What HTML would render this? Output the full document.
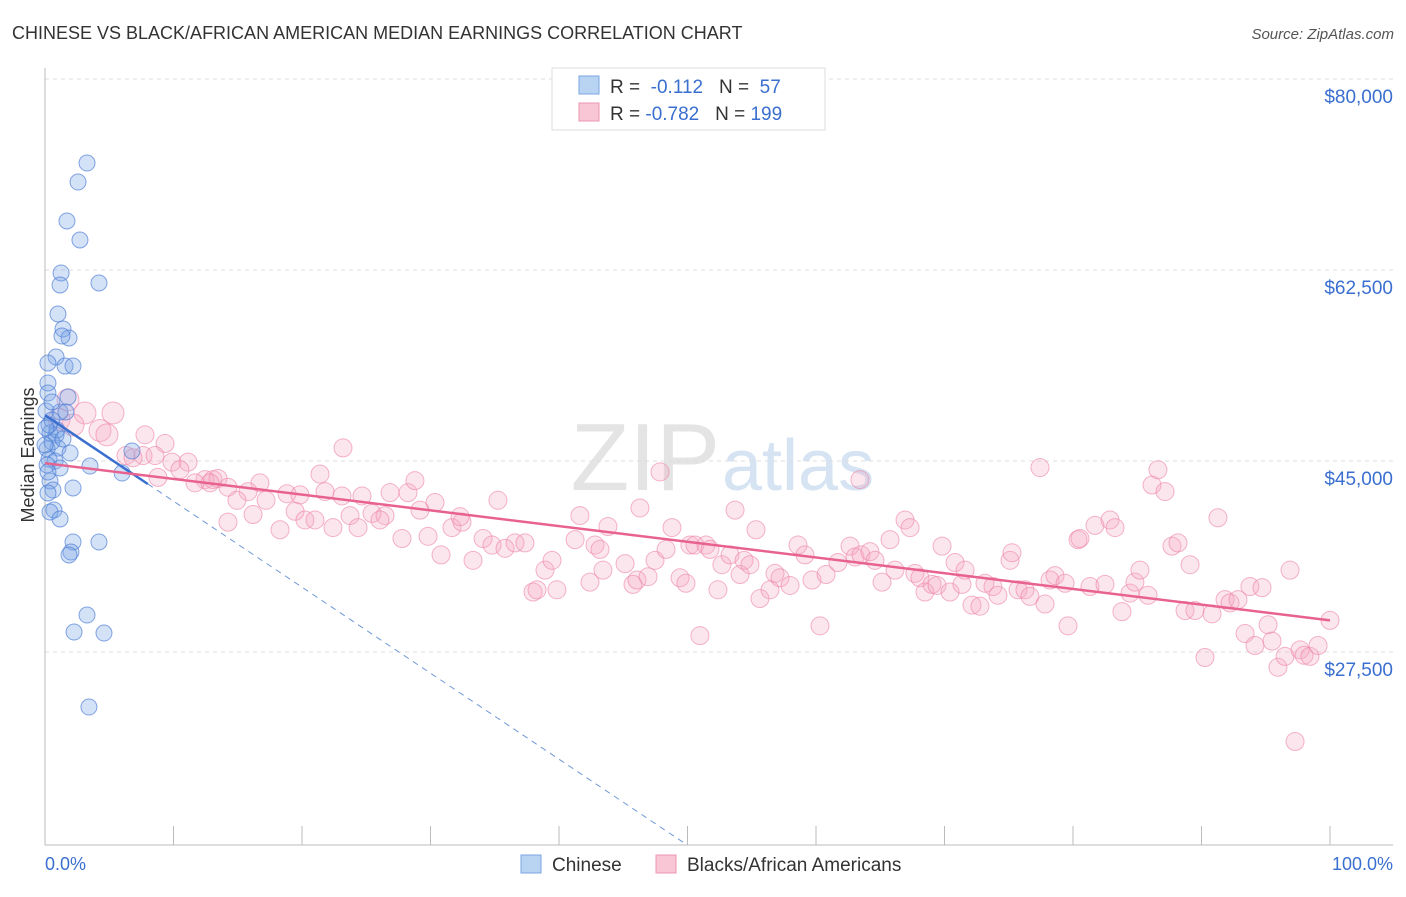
<!DOCTYPE html>
<html><head><meta charset="utf-8"><style>
body{margin:0;background:#fff;font-family:"Liberation Sans",sans-serif;}
svg text{font-family:"Liberation Sans",sans-serif;}
</style></head><body>
<svg id="chart" width="1406" height="892">
<text x="12" y="39" font-size="18" fill="#333">CHINESE VS BLACK/AFRICAN AMERICAN MEDIAN EARNINGS CORRELATION CHART</text>
<text x="1394" y="39" font-size="15" fill="#555" font-style="italic" text-anchor="end">Source: ZipAtlas.com</text>
<text x="720" y="490" font-size="96" fill="#e4e4e4" text-anchor="end" font-family="Liberation Serif">ZIP</text>
<text x="722" y="490" font-size="72" fill="#d5e3f3">atlas</text>
<g id="grid"></g>
<g id="pts"></g>
<g id="lines"></g>
<text transform="translate(34,455) rotate(-90)" font-size="18" fill="#333" text-anchor="middle">Median Earnings</text>
<text x="45" y="870" font-size="18" fill="#3a6fd0">0.0%</text>
<text x="1393" y="870" font-size="18" fill="#3a6fd0" text-anchor="end">100.0%</text>
<g>
<rect x="552" y="68" width="273" height="62" fill="#fff" stroke="#ddd"/>
<rect x="579" y="76" width="20" height="18" fill="#b9d3f3" stroke="#7aa6e0"/>
<rect x="579" y="103" width="20" height="18" fill="#f9c6d5" stroke="#ee97b2"/>
<text x="610" y="93" font-size="19" fill="#333">R = <tspan fill="#3a6fd0">&#160;-0.112</tspan>&#160;&#160;&#160;N = <tspan fill="#3a6fd0">&#160;57</tspan></text>
<text x="610" y="120" font-size="19" fill="#333">R = <tspan fill="#3a6fd0">-0.782</tspan>&#160;&#160;&#160;N = <tspan fill="#3a6fd0">199</tspan></text>
</g>
<g>
<rect x="521" y="855" width="20" height="18" fill="#b9d3f3" stroke="#7aa6e0"/>
<text x="552" y="871" font-size="19" fill="#333">Chinese</text>
<rect x="656" y="855" width="20" height="18" fill="#f9c6d5" stroke="#ee97b2"/>
<text x="687" y="871" font-size="19" fill="#333">Blacks/African Americans</text>
</g>
</svg>
<script>
const yTicks=[80000,62500,45000,27500];
const yTickLabels=["$80,000","$62,500","$45,000","$27,500"];
const xTicks=[0,10,20,30,40,50,60,70,80,90,100];
const chinesePct=[3.27,2.57,1.71,2.72,1.25,1.17,4.2,1.01,1.4,1.87,1.32,0.86,0.23,1.56,2.18,0.23,0.23,1.79,0.08,1.17,1.63,0.54,0.39,0.86,1.01,1.95,0.16,0.31,0.78,0.16,1.17,3.5,6.0,6.77,0.39,2.18,0.62,0.23,0.7,0.39,1.17,2.18,4.2,2.02,1.87,3.27,2.26,4.59,3.42,0.23,0.54,0.93,0.31,1.4,0,0.08,0.54];
const chineseVal=[72300,70560,66990,65250,62230,61130,61310,58470,57100,56270,56450,54530,53980,53700,53700,52150,51230,50860,49580,49490,49490,48760,47570,47380,46190,45730,46100,45180,45000,44640,44360,44540,43900,45920,43170,42530,42340,42070,40510,40330,39690,37580,37580,36660,36390,30890,29330,29240,22460,43990,46740,47840,48300,47020,46470,48020,50410];
const blackPct=[1.79,3.11,5.29,1.09,2.18,4.28,4.82,7.78,9.34,6.3,7.63,8.56,6.85,9.88,11.13,10.5,8.79,12.45,13.07,13.46,12.84,14.24,11.67,16.73,15.8,14.94,17.2,18.83,19.84,21.4,21.79,23.11,24.67,26.85,28.25,28.79,30.35,35.25,23.19,14.24,16.19,18.29,19.46,20.23,21.01,22.41,23.74,24.36,25.45,26.46,26.07,27.78,29.18,29.81,30.82,31.67,32.45,32.3,33.31,34.09,34.79,35.8,36.58,37.35,37.98,38.29,38.91,39.46,39.84,41.25,41.63,42.8,43.19,43.81,42.41,43.42,45.14,45.76,46.07,46.3,47.47,46.93,48.33,48.79,49.42,49.88,50.19,50.58,51.44,51.75,52.37,52.68,53.31,53.7,54.09,54.4,54.86,55.33,55.64,56.42,56.81,57.2,57.98,58.6,59.14,59.69,60.31,60.78,61.71,62.65,63.04,63.5,64.2,64.59,65.14,65.76,66.15,66.93,67.32,67.7,68.09,68.48,69.03,69.42,69.81,70.43,70.82,71.36,71.6,72.14,72.76,73.15,73.77,74.16,75.1,75.25,75.72,76.26,76.65,77.43,77.82,78.21,78.6,79.38,79.61,80.39,80.54,81.32,81.71,82.49,82.88,83.27,83.81,84.44,84.82,85.21,85.84,86.15,86.61,87.16,87.7,88.17,88.72,89.11,89.49,90.27,90.82,91.28,91.83,92.22,92.84,93.39,93.77,94.16,94.71,95.18,95.49,95.95,96.5,96.89,97.28,97.67,97.98,98.44,99.07,100,47.86,63.42,50.97];
const blackVal=[50.6,49.4,49.4,48.8,48.3,47.8,47.4,47.4,46.6,45.5,45.5,45.5,45.3,44.9,44.9,44.2,43.5,43.3,43.3,43.4,43.0,42.6,43.0,43.0,42.2,41.4,41.4,42.0,41.9,43.8,42.2,41.8,41.8,42.1,42.1,43.2,41.2,41.4,46.2,39.4,40.1,38.7,40.4,39.6,39.6,38.9,40.0,38.9,40.2,40.0,39.6,37.9,40.5,38.1,36.4,38.9,39.4,39.9,35.9,37.9,37.3,37.0,37.5,37.5,33.0,33.2,35.0,35.9,33.2,37.8,40.0,37.3,36.9,39.0,33.9,35.0,35.6,33.7,34.1,40.7,35.9,34.4,36.9,38.9,34.3,33.8,37.3,37.3,37.3,36.9,33.2,35.5,36.4,40.5,34.6,35.9,35.5,38.7,32.4,33.2,34.7,34.3,33.6,37.3,36.4,34.1,29.9,34.6,35.7,37.2,36.2,36.4,36.7,35.9,33.9,37.8,35.0,39.6,38.9,34.7,34.3,33.0,33.7,33.6,37.2,33.0,35.7,33.7,35.0,31.8,31.7,33.8,33.5,32.7,35.9,36.6,33.2,33.2,32.6,44.4,31.9,34.1,34.5,33.8,29.9,37.8,37.9,33.5,39.1,33.7,39.6,38.9,31.2,32.9,33.9,35.0,32.7,42.8,44.2,42.2,37.2,37.5,31.3,35.5,31.3,27.0,31.0,39.8,32.3,32.0,32.3,29.2,33.5,28.1,33.4,30.0,28.5,26.1,27.1,35.0,19.3,27.7,27.2,27.1,28.1,30.4,44.0,43.3,29.0];
const chineseTrend=[49200,-788];   // intercept, slope per pct
const blackTrend=[44800,-144];
const yMin=9817;

const X=p=>45+p*12.85;
const Y=v=>79+(80000-v)/91.62;
const NS="http://www.w3.org/2000/svg";
function mk(tag,attrs,parent){const e=document.createElementNS(NS,tag);for(const k in attrs)e.setAttribute(k,attrs[k]);parent.appendChild(e);return e;}
const grid=document.getElementById('grid');
yTicks.forEach((v,i)=>{
  const l=mk('line',{x1:45,x2:1393,y1:Y(v),y2:Y(v),stroke:'#ddd','stroke-dasharray':'4,4'},grid);
  
  
  const t=mk('text',{x:1393,y:Y(v)+24,'font-size':19,fill:'#3a6fd0','text-anchor':'end'},grid);
  t.textContent=yTickLabels[i];
  
  
});
const ax=mk('line',{x1:45,x2:45,y1:68,y2:845,stroke:'#bbb'},grid);


const bx=mk('line',{x1:45,x2:1393,y1:845,y2:845,stroke:'#bbb'},grid);


xTicks.forEach(p=>{
  const t=mk('line',{x1:X(p),x2:X(p),y1:826,y2:845,stroke:'#bbb'},grid);
  
  
});
const pts=document.getElementById('pts');
blackPct.forEach((p,i)=>{
  const c=mk('circle',{cx:X(p),cy:Y(blackVal[i]*1000),r:p<6?11:9,fill:'rgba(244,165,195,0.28)',stroke:'rgba(236,130,165,0.6)','stroke-width':1},pts);
  
  
});
chinesePct.forEach((p,i)=>{
  const c=mk('circle',{cx:X(p),cy:Y(chineseVal[i]),r:8,fill:'rgba(120,165,230,0.32)',stroke:'rgba(70,120,210,0.65)','stroke-width':1},pts);
  
  
});
const lines=document.getElementById('lines');
const cv=p=>chineseTrend[0]+chineseTrend[1]*p;
const bv=p=>blackTrend[0]+blackTrend[1]*p;
const pEnd=(chineseTrend[0]-yMin)/-chineseTrend[1];
const d=mk('line',{x1:X(8),y1:Y(cv(8)),x2:X(pEnd),y2:Y(cv(pEnd)),stroke:'#6f98d8','stroke-dasharray':'6,5','stroke-width':1},lines);


const s=mk('line',{x1:X(0),y1:Y(cv(0)),x2:X(8),y2:Y(cv(8)),stroke:'#3a6fd0','stroke-width':2.5},lines);


const b=mk('line',{x1:X(0),y1:Y(bv(0)),x2:X(100),y2:Y(bv(100)),stroke:'#e8628f','stroke-width':2.5},lines);


</script>
</body></html>
